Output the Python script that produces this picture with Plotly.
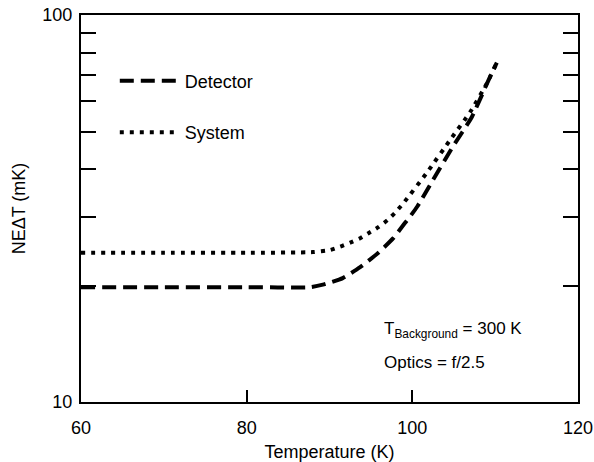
import plotly.graph_objects as go

# Data
det_T = [60, 70, 80, 87.7, 89.2, 91.6, 93.7, 95.9, 97.7, 99.1, 99.7, 100.6,
         102.5, 104.9, 107.2, 109.2, 110.2]
det_N = [19.8, 19.8, 19.8, 19.8, 20.1, 20.9, 22.3, 24.3, 26.5, 29.0, 30.1, 32.0,
         37.5, 45.7, 54.6, 67.9, 75.3]

sys_T = [60, 70, 80, 88.0, 90.1, 91.3, 92.5, 93.7, 94.7, 95.9, 97.0, 97.9,
         98.9, 101.7, 104.7, 107.0, 109.0, 110.2]
sys_N = [24.3, 24.3, 24.3, 24.4, 24.7, 25.2, 25.8, 26.5, 27.3, 28.3, 29.5, 30.8,
         32.6, 39.0, 48.0, 56.2, 66.6, 75.3]

x_ticks = [60, 80, 100, 120]
y_major = [10, 100]
y_minor = [20, 30, 40, 50, 60, 70, 80, 90]

FONT = "Liberation Sans, Arial, Helvetica, sans-serif"

fig = go.Figure()
fig.add_trace(go.Scatter(x=det_T, y=det_N, mode="lines", name="Detector",
                         legendgroup="d",
                         line=dict(color="black", width=4, dash="14px,7px",
                                   shape="spline", smoothing=0.5)))
fig.add_trace(go.Scatter(x=sys_T, y=sys_N, mode="lines", name="System",
                         legendgroup="s",
                         line=dict(color="black", width=4, dash="4px,6px",
                                   shape="spline", smoothing=0.5)))

fig.update_layout(
    width=594, height=462,
    margin=dict(l=81, r=16, t=15, b=60),
    paper_bgcolor="white", plot_bgcolor="white",
    font=dict(family=FONT, size=18, color="black"),
    showlegend=True,
    legend=dict(x=0.068, y=0.877, xanchor="left", yanchor="top",
                bgcolor="rgba(0,0,0,0)", font=dict(size=18),
                tracegroupgap=25, itemwidth=60, traceorder="grouped"),
)

fig.update_xaxes(
    range=[60, 120], tickvals=x_ticks, ticks="inside", ticklen=12,
    tickwidth=1.5, tickcolor="black", showline=True, linecolor="black",
    linewidth=2, mirror=True, showgrid=False, zeroline=False,
    ticklabelstandoff=8, automargin=False, tickfont=dict(size=18),
    title=dict(text="Temperature (K)", font=dict(size=18), standoff=9),
)

fig.update_yaxes(
    type="log", range=[1, 2], tickvals=y_major, ticktext=["10", "100"],
    ticks="inside", ticklen=0, tickcolor="black", showline=True,
    linecolor="black", linewidth=2, mirror="ticks", showgrid=False,
    zeroline=False, ticklabelstandoff=3, automargin=False,
    tickfont=dict(size=18),
    minor=dict(tickvals=y_minor, ticks="inside", ticklen=15, tickwidth=1.5,
               tickcolor="black", showgrid=False),
    title=dict(text="NE\u0394T (mK)", font=dict(size=18), standoff=12),
)

fig.add_annotation(x=0.606, y=0.185, xref="paper", yref="paper",
                   xanchor="left", yanchor="middle", showarrow=False,
                   text="T<sub>Background</sub> = 300 K",
                   font=dict(size=17, family=FONT))
fig.add_annotation(x=0.606, y=0.103, xref="paper", yref="paper",
                   xanchor="left", yanchor="middle", showarrow=False,
                   text="Optics = f/2.5", font=dict(size=17, family=FONT))

fig.write_html("out.html")
